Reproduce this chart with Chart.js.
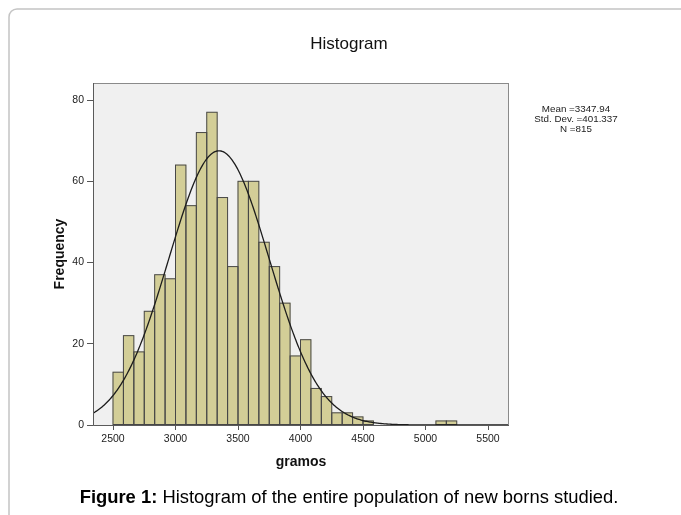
<!DOCTYPE html>
<html>
<head>
<meta charset="utf-8">
<script src="https://cdn.jsdelivr.net/npm/chart.js@4.4.1/dist/chart.umd.min.js"></script>
<style>
  html, body { margin: 0; padding: 0; background: #ffffff; }
  canvas { display: block; }
</style>
</head>
<body>
<canvas id="histogram" width="681" height="515"></canvas>
<script>
// Birth weight (grams) of 815 newborns, bins of 83.33 g starting at 2500 g
const firstBinStart = 2500;
const binWidth = 250 / 3;
const frequency = [13, 22, 18, 28, 37, 36, 64, 54, 72, 77, 56, 39, 60, 60, 45, 39, 30,
                   17, 21, 9, 7, 3, 3, 2, 1, 0, 0, 0, 0, 0, 0, 1, 1];
const xTicks = [2500, 3000, 3500, 4000, 4500, 5000, 5500];
const yTicks = [0, 20, 40, 60, 80];
const xRange = [2340, 5668];
const yMax = 84.2;

// Summary statistics shown beside the plot; the normal curve uses them too
const meanWeight = 3347.94;
const sdWeight = 401.337;
const nCases = 815;

const FONT = "'Liberation Sans', Arial, sans-serif";

const barPoints = frequency
  .map((f, i) => ({ x: firstBinStart + (i + 0.5) * binWidth, y: f }))
  .filter(p => p.y > 0);

// Expected counts per bin under N(mean, sd)
const curvePoints = [];
for (let x = xRange[0]; x <= xRange[1]; x += 8) {
  const z = (x - meanWeight) / sdWeight;
  const y = nCases * binWidth * Math.exp(-0.5 * z * z) / (sdWeight * Math.sqrt(2 * Math.PI));
  curvePoints.push({ x, y });
}

const framePlugin = {
  id: 'frame',
  beforeDraw(chart) {
    const { ctx, chartArea: a } = chart;
    ctx.save();
    ctx.fillStyle = '#ffffff';
    ctx.fillRect(0, 0, chart.width, chart.height);
    // outer page frame with rounded corner
    const r = 8;
    ctx.strokeStyle = '#c4c4c4';
    ctx.lineWidth = 1.5;
    ctx.beginPath();
    ctx.moveTo(9, chart.height + 2);
    ctx.lineTo(9, 9 + r);
    ctx.arcTo(9, 9, 9 + r, 9, r);
    ctx.lineTo(chart.width + 2, 9);
    ctx.stroke();
    // plot background
    ctx.fillStyle = '#f0f0f0';
    ctx.fillRect(a.left, a.top, a.right - a.left, a.bottom - a.top);
    ctx.restore();
  },
  afterDatasetDraw(chart, args) {
    if (args.meta.type !== 'bar') return;
    const { ctx } = chart;
    ctx.save();
    ctx.strokeStyle = '#474747';
    ctx.lineWidth = 1;
    args.meta.data.forEach(bar => {
      const p = bar.getProps(['x', 'y', 'base', 'width'], true);
      ctx.strokeRect(p.x - p.width / 2, p.y, p.width, p.base - p.y);
    });
    ctx.restore();
  },
  afterDraw(chart) {
    const { ctx, chartArea: a } = chart;
    ctx.save();
    // plot border
    ctx.strokeStyle = '#8a8a8a';
    ctx.lineWidth = 1;
    ctx.strokeRect(a.left + 0.5, a.top + 0.5, a.right - a.left - 1, a.bottom - a.top);
    ctx.strokeStyle = '#5a5a5a';
    ctx.beginPath();
    ctx.moveTo(a.left + 0.5, a.top);
    ctx.lineTo(a.left + 0.5, a.bottom + 0.5);
    ctx.lineTo(a.right, a.bottom + 0.5);
    ctx.stroke();

    // title
    ctx.fillStyle = '#111111';
    ctx.textAlign = 'center';
    ctx.textBaseline = 'middle';
    ctx.font = `17px ${FONT}`;
    ctx.fillText('Histogram', 349, 44);

    // statistics
    ctx.font = `9.8px ${FONT}`;
    ctx.fillStyle = '#222222';
    const statsLines = [`Mean =${meanWeight}`, `Std. Dev. =${sdWeight}`, `N =${nCases}`];
    statsLines.forEach((t, i) => ctx.fillText(t, 576, 109 + i * 10));

    // caption
    const boldPart = 'Figure 1:';
    const restPart = ' Histogram of the entire population of new borns studied.';
    ctx.textAlign = 'left';
    ctx.textBaseline = 'alphabetic';
    ctx.fillStyle = '#000000';
    ctx.font = `bold 18.4px ${FONT}`;
    const wBold = ctx.measureText(boldPart).width;
    ctx.font = `18.4px ${FONT}`;
    const wRest = ctx.measureText(restPart).width;
    const x0 = 349 - (wBold + wRest) / 2;
    ctx.font = `bold 18.4px ${FONT}`;
    ctx.fillText(boldPart, x0, 503);
    ctx.font = `18.4px ${FONT}`;
    ctx.fillText(restPart, x0 + wBold, 503);
    ctx.restore();
  }
};

new Chart(document.getElementById('histogram'), {
  data: {
    datasets: [
      {
        type: 'line',
        data: curvePoints,
        borderColor: '#1c1c1c',
        borderWidth: 1.3,
        pointRadius: 0,
        tension: 0,
        fill: false,
        order: 0
      },
      {
        type: 'bar',
        data: barPoints,
        backgroundColor: '#d3ce97',
        borderWidth: 0,
        barPercentage: 1,
        categoryPercentage: 1,
        order: 1
      }
    ]
  },
  options: {
    responsive: false,
    animation: false,
    devicePixelRatio: 1,
    layout: { padding: { left: 48, right: 172, top: 83, bottom: 40 } },
    plugins: { legend: { display: false }, tooltip: { enabled: false } },
    scales: {
      x: {
        type: 'linear',
        min: xRange[0],
        max: xRange[1],
        offset: false,
        grid: { display: true, drawOnChartArea: false, drawTicks: true, tickLength: 5, color: '#555555', offset: false },
        border: { display: false },
        ticks: {
          font: { family: FONT, size: 10.5 },
          color: '#222222',
          padding: 3,
          maxRotation: 0,
          autoSkip: false,
          callback: v => String(v)
        },
        afterBuildTicks: s => { s.ticks = xTicks.map(v => ({ value: v })); },
        afterFit: s => { s.height = 50; },
        title: {
          display: true,
          text: 'gramos',
          font: { family: FONT, size: 14, weight: 'bold' },
          color: '#111111',
          padding: { top: 4, bottom: 4 }
        }
      },
      y: {
        type: 'linear',
        min: 0,
        max: yMax,
        grid: { display: true, drawOnChartArea: false, drawTicks: true, tickLength: 6, color: '#555555' },
        border: { display: false },
        ticks: {
          font: { family: FONT, size: 10.5 },
          color: '#222222',
          padding: 3,
          callback: v => String(v)
        },
        afterBuildTicks: s => { s.ticks = yTicks.map(v => ({ value: v })); },
        afterFit: s => { s.width = 45; },
        title: {
          display: true,
          text: 'Frequency',
          font: { family: FONT, size: 14, weight: 'bold' },
          color: '#111111',
          padding: { top: 4, bottom: 4 }
        }
      }
    }
  },
  plugins: [framePlugin]
});
</script>
</body>
</html>
